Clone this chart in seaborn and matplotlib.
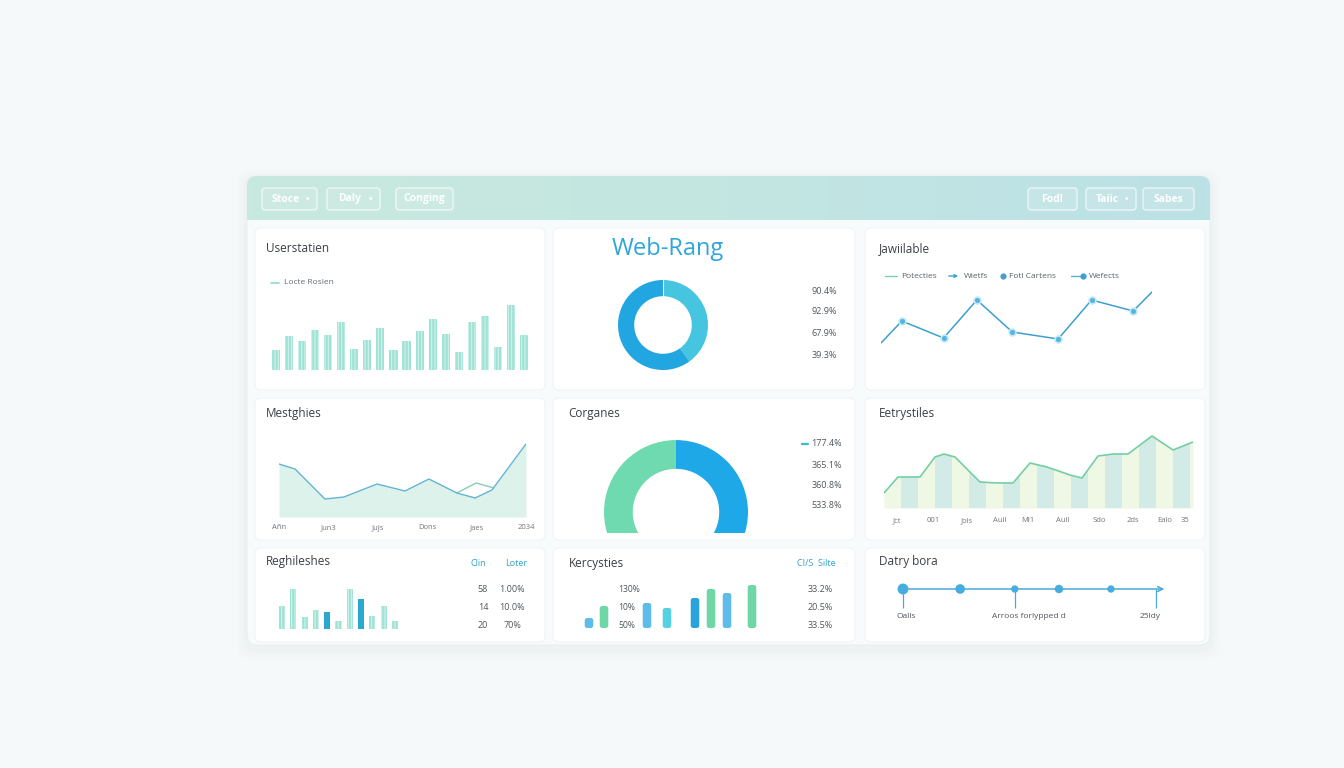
import numpy as np
import pandas as pd
import seaborn as sns
import matplotlib.pyplot as plt
from matplotlib.patches import FancyBboxPatch
from matplotlib.colors import LinearSegmentedColormap

W, H = 1344, 768

# ---- data ----
header_left = ["Stoce", "Daly", "Conging"]
header_right = ["Fodl", "Taiic", "Sabes"]

user_vals = [20, 34, 29, 40, 35, 48, 21, 30, 42, 20, 29, 39, 51, 36, 18, 48, 54, 23, 65, 35]

web_shares = [40, 60]
web_pcts = ["90.4%", "92.9%", "67.9%", "39.3%"]

jaw_x = [0, 1.0, 3.0, 4.6, 6.3, 8.5, 10.1, 12.1, 13]
jaw_y = [17, 39, 22, 60, 28, 21, 60, 49, 68]
jaw_legend = ["Potecties", "Wietfs", "Fotl Cartens", "Wefects"]

mes_x = [0, 0.65, 1.86, 2.63, 3.97, 5.1, 6.07, 7.2, 7.94, 8.62, 10]
mes_y = [53, 48, 18, 20, 33, 26, 38, 24, 19, 27, 73]
mes2_x = [7.2, 7.98, 8.7]
mes2_y = [24, 34, 29]
mes_ticks = ["Añn", "Jun3", "JuJs", "Dons", "Jaes", "2034"]

corg_shares = [50, 50]
corg_pcts = ["177.4%", "365.1%", "360.8%", "533.8%"]

eet_x = [0, 14, 36, 51, 60, 71, 96, 113, 129, 146, 163, 186, 198, 214, 229, 244, 268, 289, 309]
eet_y = [15, 31, 31, 51, 54, 51, 26, 25, 25, 45, 41, 33, 30, 52, 54, 54, 72, 58, 66]
eet_ticks = ["Jct", "001", "Jols", "Aull", "Ml1", "Aull", "Sdo", "2ds", "Ealo", "35"]
eet_tick_pos = [13, 49, 83, 116, 144, 179, 215, 249, 281, 301]

reg_vals = [23, 40, 12, 19, 17, 8, 40, 30, 13, 23, 8]
reg_dark = [4, 7]
reg_table = [("58", "1.00%"), ("14", "10.0%"), ("20", "70%")]

ker_x = [0, 15, 58, 78, 106, 122, 138, 163]
ker_vals = [10, 22, 25, 20, 30, 39, 35, 43]
ker_colors = ["#5dbcea", "#6fd6a6", "#5dbcea", "#55d2e2", "#2aa2dc", "#6fd6a6", "#5dbcea", "#6fd6a6"]
ker_mid = ["130%", "10%", "50%"]
ker_right = ["33.2%", "20.5%", "33.5%"]

tl_days = [0, 11, 21.5, 30, 40]
tl_sizes = [60, 48, 30, 38, 30]
tl_tick_days = [0, 21.5, 48.6]
tl_labels = ["Oalls", "Arroos forlypped d", "25ldy"]
tl_label_days = [-1.3, 24.2, 47.5]

sns.set_theme(style="white")
plt.rcParams['font.family'] = ['Open Sans', 'DejaVu Sans']
plt.rcParams['hatch.linewidth'] = 0.7

fig = plt.figure(figsize=(W / 100, H / 100), dpi=100)
fig.patch.set_facecolor('#f6f9f9')

bg = fig.add_axes([0, 0, 1, 1])
bg.axis('off')


def box(x0, y0, x1, y1):
    return [x0 / W, 1 - y1 / H, (x1 - x0) / W, (y1 - y0) / H]


def sub(x0, y0, x1, y1):
    ax = fig.add_axes(box(x0, y0, x1, y1))
    ax.set_facecolor('none')
    sns.despine(ax=ax, left=True, bottom=True)
    return ax


def txt(x, y, s, size=8.5, color='#3b4046', ha='left', **kw):
    bg.text(x, y, s, fontsize=size, color=color, ha=ha, va='center', **kw)


# panel + shadow
for i, a in enumerate([0.015, 0.02, 0.03]):
    pad = 10 - 3 * i
    bg.add_patch(FancyBboxPatch((247 - pad, 176 - pad + 4), 963 + 2 * pad, 469 + 2 * pad,
                                boxstyle='round,pad=0,rounding_size=14', fc='#8aa6ad', ec='none', alpha=a))
panel = FancyBboxPatch((247, 176), 963, 469, boxstyle='round,pad=0,rounding_size=10',
                       fc='#f8fbfb', ec='#e8efef', lw=0.8)
bg.add_patch(panel)

cmap = LinearSegmentedColormap.from_list('hdr', ['#c8e9de', '#c3e6e2', '#bce1e6'])
im = bg.imshow(np.linspace(0, 1, 256).reshape(1, -1), extent=(247, 1210, 220, 176),
               cmap=cmap, aspect='auto', zorder=2)
im.set_clip_path(panel)
bg.set_xlim(0, W)
bg.set_ylim(H, 0)

# header buttons
btn_left = [(262, 317), (327, 380), (396, 453)]
btn_right = [(1028, 1077), (1086, 1136), (1143, 1194)]
carets_left = [True, True, False]
carets_right = [False, True, False]
for (x0, x1), lab, car in list(zip(btn_left, header_left, carets_left)) + list(zip(btn_right, header_right, carets_right)):
    bg.add_patch(FancyBboxPatch((x0, 188), x1 - x0, 22, boxstyle='round,pad=0,rounding_size=3',
                                fc=(1, 1, 1, 0.12), ec=(1, 1, 1, 0.75), lw=0.9, zorder=3))
    cx = (x0 + x1) / 2 - (4 if car else 0)
    txt(cx, 199, lab, size=7.5, color='white', ha='center', weight='bold', zorder=4)
    if car:
        bg.text(x1 - 9, 199, '▾', fontsize=5, color='white', ha='center', va='center',
                family='DejaVu Sans', zorder=4)

# cards
cards_x = [(255, 545), (553, 855), (865, 1205)]
cards_y = [(228, 390), (398, 540), (548, 642)]
for y0, y1 in cards_y:
    for x0, x1 in cards_x:
        bg.add_patch(FancyBboxPatch((x0, y0), x1 - x0, y1 - y0, boxstyle='round,pad=0,rounding_size=6',
                                    fc='white', ec='#eef4f4', lw=0.7, zorder=1))

# titles
txt(266, 249, "Userstatien")
bg.text(668, 249, "Web-Rang", fontsize=17, color='#2fa6d9', ha='center', va='center')
txt(879, 249, "Jawiilable")
txt(266, 414, "Mestghies")
txt(568, 414, "Corganes")
txt(879, 414, "Eetrystiles")
txt(266, 562, "Reghileshes")
txt(569, 564, "Kercysties")
txt(879, 561, "Datry bora")

# ---- row 1, card 1: bars ----
bg.plot([271, 279], [283, 283], color='#8fd8cc', lw=1.2)
txt(284, 283, "Locte Roslen", size=6, color='#666c72')
ax = sub(269.5, 300, 530.5, 370)
sns.barplot(x=list(range(len(user_vals))), y=user_vals, color='#a0e3d6', width=0.62, ax=ax,
            edgecolor='#d6f5ee', linewidth=0, hatch='|||||', saturation=1)
ax.set_ylim(0, 70)
ax.set(xticks=[], yticks=[], xlabel='', ylabel='')

# ---- row 1, card 2: donut ----
ax = sub(618, 280, 708, 370)
ax.pie(web_shares, colors=['#46c5e0', '#21a6e2'], startangle=90, counterclock=False,
       wedgeprops=dict(width=0.36, edgecolor='none'))
ax.plot([0, 0], [0.64, 1.0], color='white', lw=0.8)
ax.set_xlim(-1, 1)
ax.set_ylim(-1, 1)
for s, y in zip(web_pcts, [292, 312, 334, 355]):
    txt(837, y, s, size=6.5, color='#50565c', ha='right')

# ---- row 1, card 3: line ----
bg.plot([885, 897], [276, 276], color='#7fd0a8', lw=1)
txt(901, 276, jaw_legend[0], size=6, color='#5a6066')
bg.annotate('', xy=(961, 276), xytext=(946, 276),
            arrowprops=dict(arrowstyle='->', color='#3d9fd1', lw=1, mutation_scale=5))
txt(964, 276, jaw_legend[1], size=6, color='#5a6066')
bg.scatter([1003], [276], s=12, color='#4a9fc8', zorder=3)
txt(1009, 276, jaw_legend[2], size=6, color='#5a6066')
bg.plot([1071, 1080], [276, 276], color='#5ab0d8', lw=1)
bg.scatter([1083], [276], s=12, color='#3d9fd1', zorder=3)
txt(1089, 276, jaw_legend[3], size=6, color='#5a6066')

ax = sub(881, 285, 1152, 360)
sns.lineplot(x=jaw_x, y=jaw_y, ax=ax, color='#3d9fd1', linewidth=1.1)
sns.scatterplot(x=jaw_x[1:-1], y=jaw_y[1:-1], ax=ax, color='#56b5df', edgecolor='#c4e8f6',
                s=24, linewidth=1.2, zorder=3, clip_on=False)
ax.set_xlim(0, 13)
ax.set_ylim(0, 75)
ax.set(xticks=[], yticks=[], xlabel='', ylabel='')

# ---- row 2, card 1: area ----
ax = sub(279, 430, 526, 517)
ax.fill_between(mes_x, mes_y, 0, color='#ddf2ea', lw=0)
sns.lineplot(x=mes2_x, y=mes2_y, ax=ax, color='#86cdb8', linewidth=1)
sns.lineplot(x=mes_x, y=mes_y, ax=ax, color='#62b4d6', linewidth=1)
ax.set_xlim(0, 10)
ax.set_ylim(0, 87)
ax.set_xticks([0, 2, 4, 6, 8, 10], mes_ticks)
ax.set_yticks([])
ax.tick_params(length=0, pad=5, labelsize=5.5, labelcolor='#70767c')
ax.set(xlabel='', ylabel='')

# ---- row 2, card 2: clipped donut ----
ax = sub(604, 440, 748, 533)
wedges, _ = ax.pie(corg_shares, colors=['#6fdab0', '#1fa8e8'], startangle=90, counterclock=True,
                   wedgeprops=dict(width=0.4, linewidth=0))
for w in wedges:
    w.set_clip_on(True)
    w.set_clip_path(ax.patch)
ax.set_xlim(-1, 1)
ax.set_ylim(-0.29, 1)
bg.plot([802, 808], [444, 444], color='#3fb8d8', lw=1.6)
for s, y in zip(corg_pcts, [444, 465, 485, 505]):
    txt(842, y, s, size=6.5, color='#50565c', ha='right')

# ---- row 2, card 3: striped area ----
ax = sub(884, 430, 1193, 508)
poly = ax.fill_between(eet_x, eet_y, 0, color='#eef8e5', lw=0)
for i, x0 in enumerate(np.arange(0, 320, 17)):
    if i % 2 == 1:
        r = ax.axvspan(x0, x0 + 17, color='#d3ebe7', lw=0)
        r.set_clip_path(poly.get_paths()[0], ax.transData)
sns.lineplot(x=eet_x, y=eet_y, ax=ax, color='#74cfa3', linewidth=1.2)
ax.set_xlim(0, 309)
ax.set_ylim(0, 78)
ax.set_xticks(eet_tick_pos, eet_ticks)
ax.set_yticks([])
ax.tick_params(length=0, pad=6.5, labelsize=5.5, labelcolor='#70767c')
ax.set(xlabel='', ylabel='')

# ---- row 3, card 1: small bars + table ----
ax = sub(276.4, 585, 400.6, 629)
reg_cats = [str(i) for i in range(len(reg_vals))]
reg_pal = {c: ('#2aa8d0' if i in reg_dark else '#a0e3d6') for i, c in enumerate(reg_cats)}
sns.barplot(x=reg_cats, y=reg_vals, hue=reg_cats, palette=reg_pal, legend=False, width=0.55,
            ax=ax, edgecolor='#d6f5ee', linewidth=0, hatch='|||||', saturation=1)
for i, p in enumerate(ax.patches):
    if i in reg_dark:
        p.set_hatch(None)
ax.set_ylim(0, 44)
ax.set(xticks=[], yticks=[], xlabel='', ylabel='')

txt(478, 564, "Clin", size=6.5, color='#2fa3cf', ha='center')
txt(516, 564, "Loter", size=6.5, color='#2fa3cf', ha='center')
for (a, b), y in zip(reg_table, [589, 607, 626]):
    txt(483, y, a, size=6.5, color='#50565c', ha='center')
    txt(512, y, b, size=6.5, color='#50565c', ha='center')

# ---- row 3, card 2: rounded bars ----
ax = sub(579, 585, 762, 628)
sns.barplot(x=ker_x, y=ker_vals, native_scale=True, width=0.57, color='#5dbcea', ax=ax)
bars = list(ax.patches)
for p, c in zip(bars, ker_colors):
    ax.add_patch(FancyBboxPatch((p.get_x(), p.get_y()), p.get_width(), p.get_height(),
                                boxstyle='round,pad=0,rounding_size=2.5', fc=c, ec='none'))
    p.remove()
ax.set_xlim(-10, 173)
ax.set_ylim(0, 43)
ax.set(xticks=[], yticks=[], xlabel='', ylabel='')
for s, y in zip(ker_mid, [589, 607, 626]):
    txt(618, y, s, size=6.2, color='#50565c')
txt(816, 564, "CI/S  Silte", size=6.5, color='#2fa3cf', ha='center')
for s, y in zip(ker_right, [589, 607, 626]):
    txt(833, y, s, size=6.5, color='#50565c', ha='right')

# ---- row 3, card 3: timeline ----
ax = sub(893, 579, 1177, 609)
ax.annotate('', xy=(50.8, 0), xytext=(0, 0),
            arrowprops=dict(arrowstyle='->', color='#4aaad8', lw=1.1, mutation_scale=9))
ax.vlines(tl_tick_days, -1.9, 0, color='#4aaad8', lw=0.9)
sns.scatterplot(x=tl_days, y=[0] * len(tl_days), size=tl_sizes, sizes=(28, 62), legend=False,
                color='#45ade0', edgecolor='none', ax=ax, zorder=3, clip_on=False)
for s, d in zip(tl_labels, tl_label_days):
    ax.text(d, -2.8, s, fontsize=6, color='#50565c', ha='left' if d < 0 else 'center', va='center')
ax.set_xlim(-1.92, 52.7)
ax.set_ylim(-2, 1)
ax.set(xticks=[], yticks=[], xlabel='', ylabel='')

fig.savefig('out.png', dpi=100, facecolor=fig.get_facecolor())
